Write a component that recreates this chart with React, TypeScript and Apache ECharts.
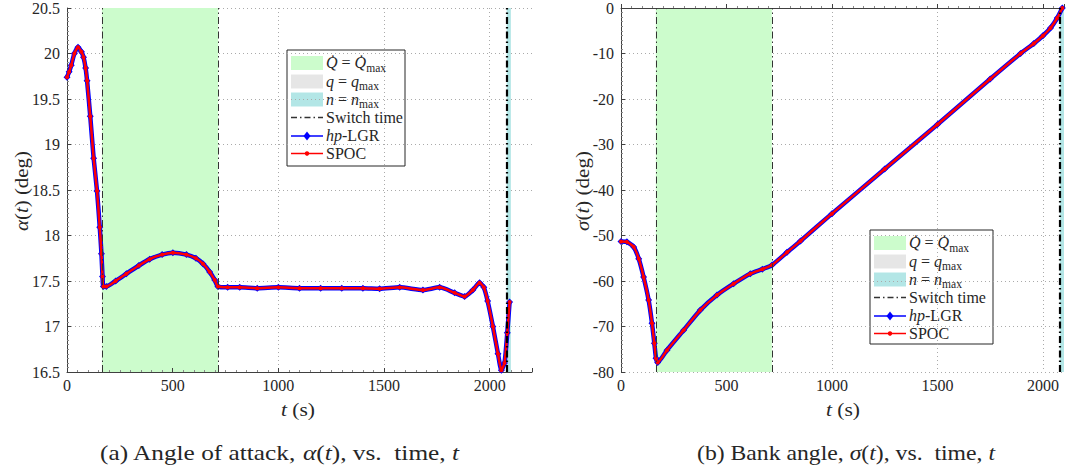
import React, { useEffect, useRef } from 'react';
import * as echarts from 'echarts';

// ---------- data ----------
const alphaT = [0, 10, 20, 35, 52, 68, 78, 88, 95, 110, 126, 142, 155, 163, 168, 172, 186, 230, 281, 340, 391, 450, 501, 565, 610, 643, 675, 699, 714, 760, 817, 900, 1000, 1100, 1200, 1300, 1400, 1479, 1574, 1684, 1763, 1834, 1881, 1920, 1952, 1972, 1990, 2015, 2039, 2055, 2070, 2083, 2094];
const alphaDeg = [19.74, 19.8, 19.87, 20.0, 20.07, 20.02, 19.96, 19.84, 19.7, 19.31, 18.85, 18.49, 18.09, 17.8, 17.55, 17.44, 17.44, 17.5, 17.58, 17.67, 17.74, 17.79, 17.81, 17.79, 17.75, 17.69, 17.6, 17.51, 17.44, 17.43, 17.43, 17.42, 17.43, 17.42, 17.42, 17.42, 17.42, 17.415, 17.43, 17.4, 17.43, 17.37, 17.33, 17.4, 17.48, 17.43, 17.28, 17.0, 16.7, 16.52, 16.6, 16.93, 17.27];

const sigmaT = [0, 28, 60, 84, 107, 131, 147, 158, 166, 174, 218, 297, 376, 455, 534, 613, 670, 716, 787, 851, 1000, 1250, 1500, 1750, 1894, 1957, 2000, 2036, 2068, 2092];
const sigmaDeg = [-51.3, -51.4, -52.5, -55.1, -59.1, -64.2, -69.3, -73.7, -77.0, -77.9, -75.2, -70.8, -66.4, -63.1, -60.6, -58.4, -57.4, -56.5, -53.7, -51.2, -45.2, -35.4, -25.6, -15.6, -10.0, -7.8, -6.1, -4.4, -2.2, 0];

const switchTimes = [165, 715, 2080];
const heatRegion = [165, 715];
const loadRegion = [2080, 2100];

const xMaxA = 2200;
const xMaxB = 2100;
const xInterval = 500;
const alphaRange = [16.5, 20.5];
const alphaInterval = 0.5;
const sigmaRange = [-80, 0];
const sigmaInterval = 10;

// ---------- styles ----------
const FONT = '"Liberation Serif", "Times New Roman", serif';
const INK = '#262626';
const GREEN = '#ccfccc';
const GRAY = '#e6e6e6';
const CYAN = '#b3e6e6';
const BLUE = '#0000ff';
const RED = '#ff0000';

function textWidth(s: string, size: number, italic = false) {
  const ctx = document.createElement('canvas').getContext('2d') as CanvasRenderingContext2D;
  ctx.font = `${italic ? 'italic ' : ''}${size}px ${FONT}`;
  return ctx.measureText(s).width;
}

type Seg = { t: string; it?: boolean; sub?: boolean };

function segWidth(segs: Seg[], size: number) {
  let w = 0;
  for (const s of segs) w += textWidth(s.t, s.sub ? size * 0.72 : size, s.it);
  return w;
}

// lay out text segments; sx stretches horizontally
function segText(segs: Seg[], x: number, y: number, size: number, center = false, sx = 1) {
  const els: any[] = [];
  let cx = center ? x - (segWidth(segs, size) * sx) / 2 : x;
  for (const s of segs) {
    const fs = s.sub ? size * 0.72 : size;
    els.push({
      type: 'text',
      x: cx,
      y: y + (s.sub ? size * 0.3 : 0),
      scaleX: sx,
      silent: true,
      style: {
        text: s.t,
        font: `${s.it ? 'italic ' : ''}${fs}px ${FONT}`,
        fill: INK,
        align: 'left',
        textAlign: 'left',
        verticalAlign: 'middle',
        textVerticalAlign: 'middle',
      },
    });
    cx += textWidth(s.t, fs, s.it) * sx;
  }
  return els;
}

function fitText(segs: Seg[], cx: number, cy: number, size: number, targetW: number, rotate = false) {
  const sx = targetW / segWidth(segs, size);
  if (!rotate) return segText(segs, cx, cy, size, true, sx);
  return [{ type: 'group', x: cx, y: cy, rotation: Math.PI / 2, silent: true, children: segText(segs, 0, 0, size, true, sx) }];
}

function legend(x0: number, y0: number, w: number, h: number) {
  const els: any[] = [
    { type: 'rect', shape: { x: x0, y: y0, width: w, height: h }, style: { fill: '#fff', stroke: INK, lineWidth: 1 }, silent: true },
  ];
  const px = x0 + 4;
  const pw = 32;
  const tx = x0 + 39;
  const rows = [13, 31.5, 49.5, 67.5, 86, 103.5];
  const fs = 16;
  const sx = 77 / textWidth('Switch time', fs);
  const patches = [GREEN, GRAY, CYAN];
  patches.forEach((c, i) => {
    els.push({ type: 'rect', shape: { x: px, y: y0 + rows[i] - 7, width: pw, height: 14 }, style: { fill: c }, silent: true });
  });
  els.push({ type: 'line', shape: { x1: px, y1: y0 + rows[3], x2: px + pw, y2: y0 + rows[3] }, style: { stroke: '#333', lineWidth: 1.5, lineDash: [6, 3, 1.5, 3] }, silent: true });
  const yb = y0 + rows[4];
  els.push({ type: 'line', shape: { x1: px, y1: yb, x2: px + pw, y2: yb }, style: { stroke: BLUE, lineWidth: 1.5 }, silent: true });
  els.push({ type: 'polygon', shape: { points: [[px + pw / 2, yb - 4.5], [px + pw / 2 + 3.5, yb], [px + pw / 2, yb + 4.5], [px + pw / 2 - 3.5, yb]] }, style: { fill: BLUE }, silent: true });
  const yr = y0 + rows[5];
  els.push({ type: 'line', shape: { x1: px, y1: yr, x2: px + pw, y2: yr }, style: { stroke: RED, lineWidth: 1.5 }, silent: true });
  els.push({ type: 'circle', shape: { cx: px + pw / 2, cy: yr, r: 2.2 }, style: { fill: RED }, silent: true });

  const texts: Seg[][] = [
    [{ t: 'Q\u0307', it: true }, { t: ' = ' }, { t: 'Q\u0307', it: true }, { t: 'max', sub: true }],
    [{ t: 'q', it: true }, { t: ' = ' }, { t: 'q', it: true }, { t: 'max', sub: true }],
    [{ t: 'n', it: true }, { t: ' = ' }, { t: 'n', it: true }, { t: 'max', sub: true }],
    [{ t: 'Switch time' }],
    [{ t: 'hp', it: true }, { t: '-LGR' }],
    [{ t: 'SPOC' }],
  ];
  texts.forEach((segs, i) => {
    els.push(...segText(segs, tx, y0 + rows[i], fs, false, sx));
  });
  return els;
}

const axisBase = (extra: any) => ({
  type: 'value',
  z: 1,
  axisLine: { show: true, lineStyle: { color: '#404040', width: 1 } },
  axisTick: { show: true, inside: true, length: 4, lineStyle: { color: '#404040' } },
  minorTick: { show: true, splitNumber: 10, length: 2, lineStyle: { color: '#8a8a8a' } },
  splitLine: { show: true, lineStyle: { type: [1, 3], color: '#aaaaaa', width: 1 } },
  ...extra,
});

function shadeSeries(idx: number) {
  return {
    type: 'line',
    xAxisIndex: idx,
    yAxisIndex: idx,
    data: [],
    z: 0,
    silent: true,
    markArea: {
      silent: true,
      itemStyle: { color: GREEN },
      data: [
        [{ xAxis: heatRegion[0] }, { xAxis: heatRegion[1] }],
        [{ xAxis: loadRegion[0], itemStyle: { color: CYAN } }, { xAxis: loadRegion[1] }],
      ],
    },
    markLine: {
      silent: true,
      symbol: 'none',
      label: { show: false },
      lineStyle: { type: [7, 3, 1.5, 3], color: '#333', width: 1 },
      data: switchTimes.map((t, i) => (i === switchTimes.length - 1 ? { xAxis: t, lineStyle: { color: '#000', width: 2.2, type: [7, 3, 1.5, 3] } } : { xAxis: t })),
    },
  };
}

function dataSeries(idx: number, ts: number[], vs: number[]) {
  const pts = ts.map((t, i) => [t, vs[i]]);
  return [
    {
      name: 'hp-LGR',
      type: 'line',
      xAxisIndex: idx,
      yAxisIndex: idx,
      data: pts,
      z: 2,
      symbol: 'diamond',
      symbolSize: 7,
      showAllSymbol: true,
      smooth: 0.2,
      itemStyle: { color: BLUE },
      lineStyle: { color: BLUE, width: 4.5 },
    },
    {
      name: 'SPOC',
      type: 'line',
      xAxisIndex: idx,
      yAxisIndex: idx,
      data: pts,
      z: 3,
      symbol: 'circle',
      symbolSize: 4,
      showAllSymbol: true,
      smooth: 0.2,
      itemStyle: { color: RED },
      lineStyle: { color: RED, width: 2.5 },
    },
  ];
}

export default function App() {
  const ref = useRef<HTMLDivElement>(null);
  useEffect(() => {
    document.body.style.margin = '0';
    const chart = echarts.init(ref.current as HTMLDivElement, null, { renderer: 'svg' });
    const xLabel = { fontFamily: FONT, fontSize: 16, color: INK, margin: 5, formatter: (v: number) => (v % xInterval === 0 ? String(v) : '') };
    const yLabel = { fontFamily: FONT, fontSize: 16, color: INK, margin: 7 };
    const captionA: Seg[] = [{ t: '(a) Angle of attack, ' }, { t: '\u03b1', it: true }, { t: '(' }, { t: 't', it: true }, { t: '), vs.  time, ' }, { t: 't', it: true }];
    const captionB: Seg[] = [{ t: '(b) Bank angle, ' }, { t: '\u03c3', it: true }, { t: '(' }, { t: 't', it: true }, { t: '), vs.  time, ' }, { t: 't', it: true }];
    const nameA: Seg[] = [{ t: '\u03b1', it: true }, { t: '(' }, { t: 't', it: true }, { t: ') (deg)' }];
    const nameB: Seg[] = [{ t: '\u03c3', it: true }, { t: '(' }, { t: 't', it: true }, { t: ') (deg)' }];
    const nameT: Seg[] = [{ t: 't', it: true }, { t: ' (s)' }];
    const xSplit = { show: true, showMaxLine: false, lineStyle: { type: [1, 3], color: '#aaaaaa', width: 1 } };
    chart.setOption({
      animation: false,
      backgroundColor: '#fff',
      grid: [
        { left: 67, top: 7, width: 465, height: 365 },
        { left: 621, top: 7, width: 443, height: 365 },
      ],
      xAxis: [
        axisBase({ gridIndex: 0, min: 0, max: xMaxA, interval: xInterval, axisLabel: xLabel, splitLine: xSplit }),
        axisBase({ gridIndex: 1, min: 0, max: xMaxB, interval: xInterval, axisLabel: xLabel, splitLine: xSplit }),
      ],
      yAxis: [
        axisBase({ gridIndex: 0, min: alphaRange[0], max: alphaRange[1], interval: alphaInterval, axisLabel: yLabel }),
        axisBase({ gridIndex: 1, min: sigmaRange[0], max: sigmaRange[1], interval: sigmaInterval, axisLabel: yLabel }),
      ],
      series: [
        shadeSeries(0),
        shadeSeries(1),
        ...dataSeries(0, alphaT, alphaDeg),
        ...dataSeries(1, sigmaT, sigmaDeg),
      ],
      graphic: [
        ...legend(287, 50, 118, 116),
        ...legend(870, 230, 123, 114),
        ...fitText(nameA, 22, 191, 18, 80, true),
        ...fitText(nameB, 583, 191, 18, 80, true),
        ...fitText(nameT, 298, 410, 18, 34),
        ...fitText(nameT, 843, 410, 18, 34),
        ...fitText(captionA, 279.5, 453, 21, 359),
        ...fitText(captionB, 846, 453, 21, 298),
      ],
    });
    return () => chart.dispose();
  }, []);
  return <div ref={ref} style={{ width: 1080, height: 472 }} />;
}
